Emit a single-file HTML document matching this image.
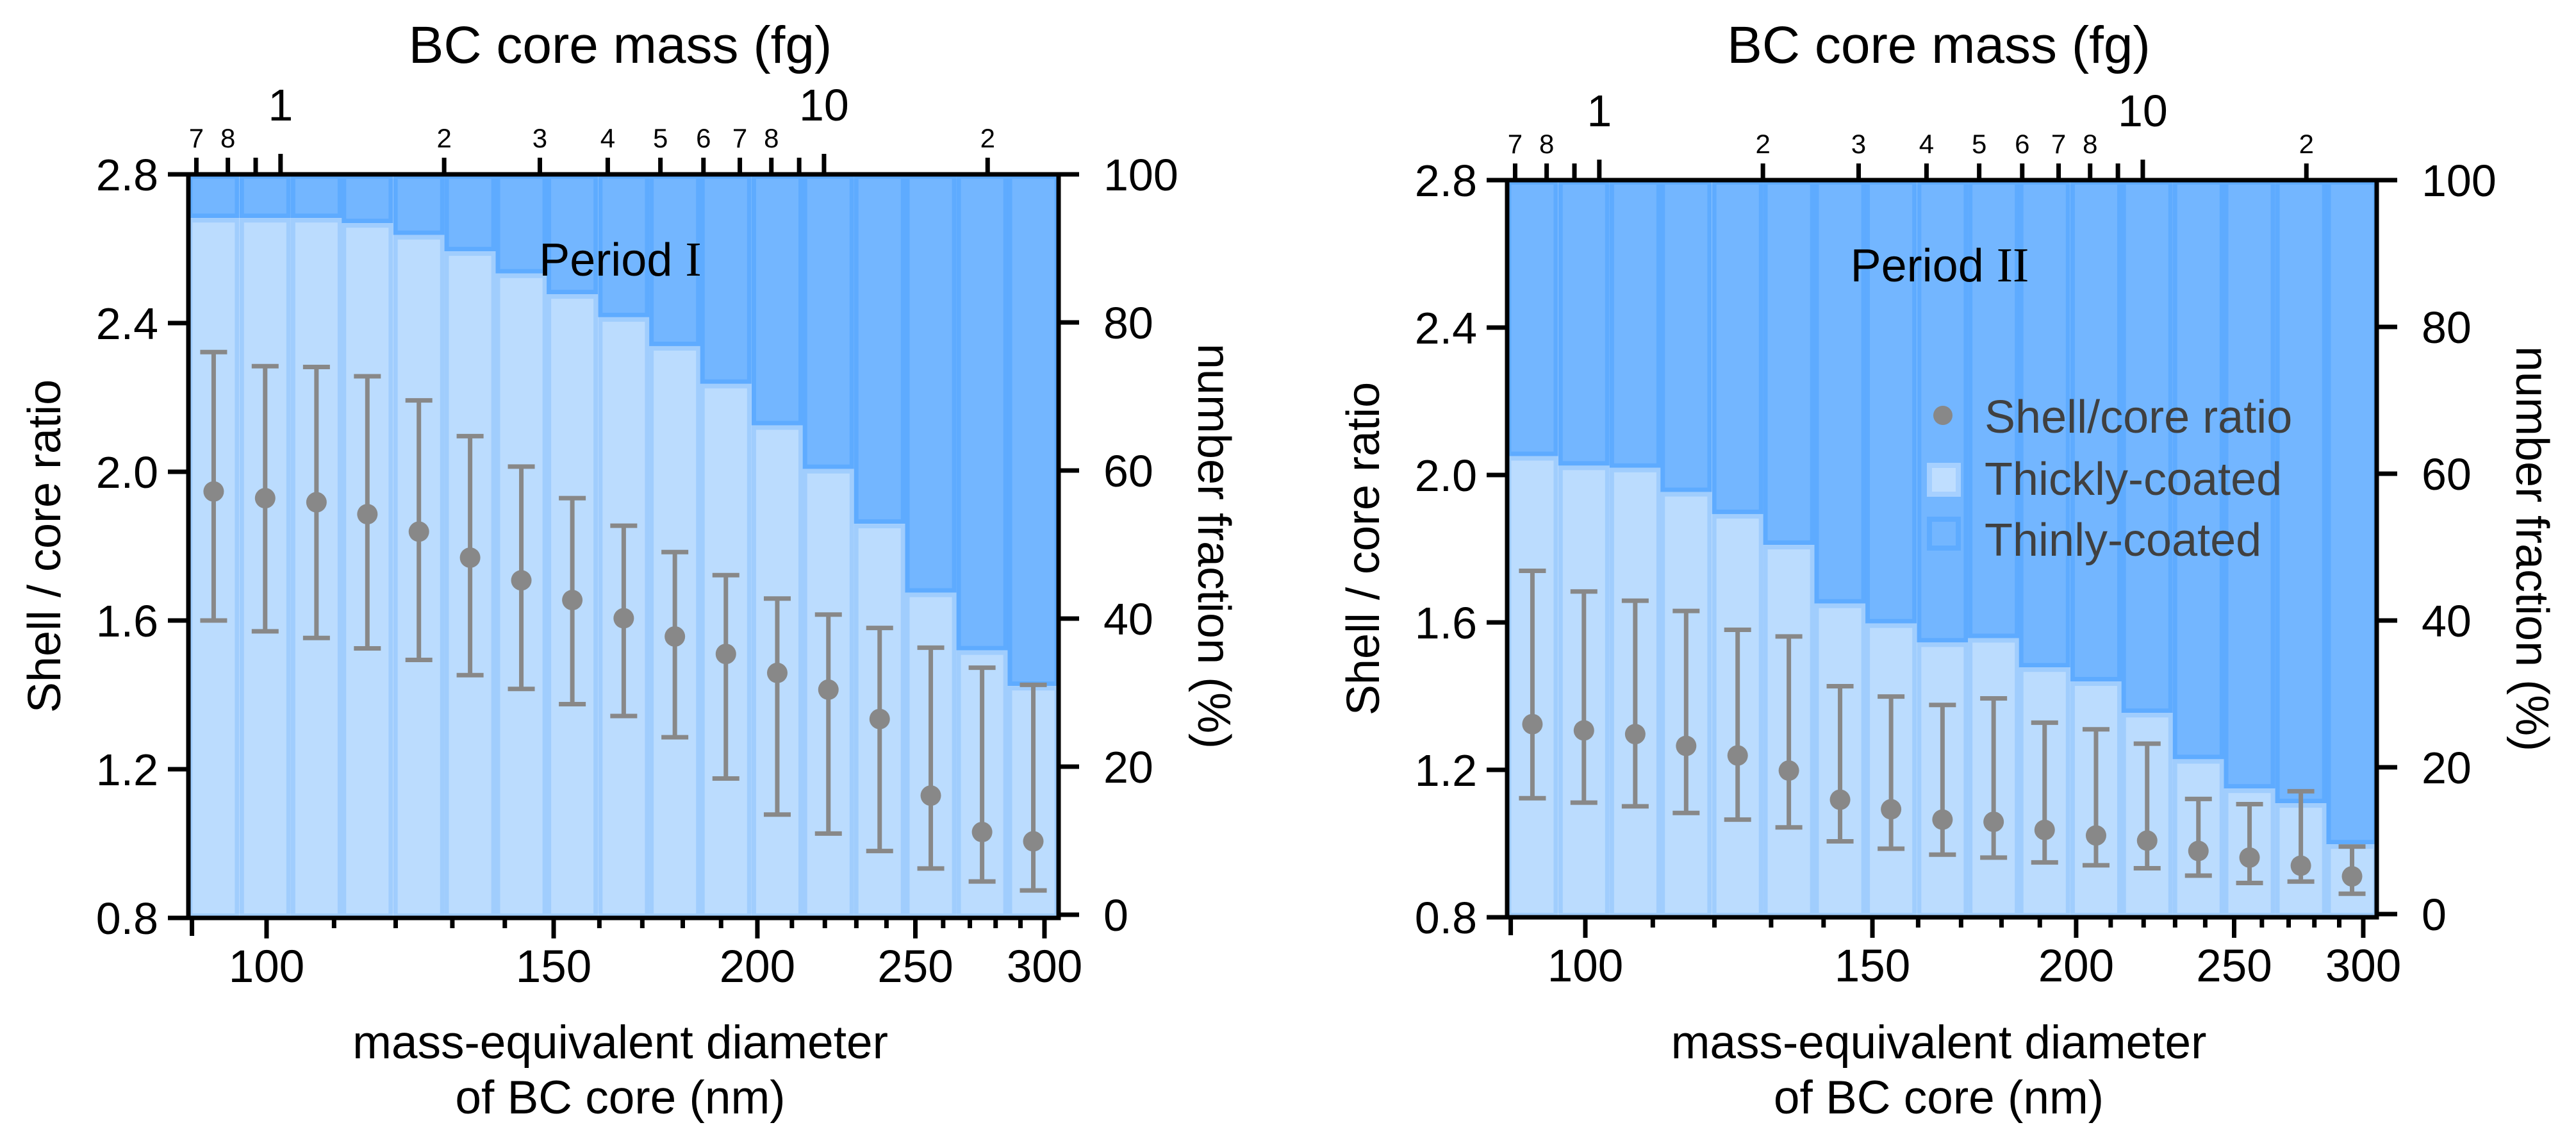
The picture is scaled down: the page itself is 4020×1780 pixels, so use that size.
<!DOCTYPE html>
<html><head><meta charset="utf-8"><style>
html,body{margin:0;padding:0;background:#fff;}
svg{display:block;}
text{font-family:"Liberation Sans",sans-serif;}
</style></head><body>
<svg id="fig" width="4020" height="1780" viewBox="0 0 4020 1780" xmlns="http://www.w3.org/2000/svg"></svg>
<script>
// Shared categories: bin-center diameters (nm)
const diameters = [92.8, 99.8, 107.3, 115.3, 124.0, 133.3, 143.3, 154.0, 165.6, 178.0, 191.3, 205.7, 221.1, 237.7, 255.5, 274.7, 295.3];
const xTickLabels = [100, 150, 200, 250, 300];
const xMinorTicks = [90, 110, 120, 130, 140, 160, 170, 180, 190, 210, 220, 230, 240, 260, 270, 280, 290];
const yLeftTicks = [0.8, 1.2, 1.6, 2.0, 2.4, 2.8];
const yRightTicks = [0, 20, 40, 60, 80, 100];
const massTicks = [0.7, 0.8, 0.9, 1, 2, 3, 4, 5, 6, 7, 8, 9, 10, 20];
const massTickLabels = ["7", "8", "", "1", "2", "3", "4", "5", "6", "7", "8", "", "10", "2"];

// Period I
const ratio1 = [1.947, 1.929, 1.918, 1.886, 1.839, 1.769, 1.708, 1.655, 1.606, 1.557, 1.510, 1.459, 1.414, 1.335, 1.129, 1.031, 1.006];
const upper1 = [2.322, 2.284, 2.282, 2.257, 2.192, 2.096, 2.014, 1.929, 1.855, 1.784, 1.722, 1.659, 1.616, 1.580, 1.527, 1.473, 1.427];
const lower1 = [1.600, 1.571, 1.553, 1.525, 1.494, 1.453, 1.416, 1.375, 1.343, 1.286, 1.175, 1.078, 1.027, 0.980, 0.933, 0.898, 0.874];
const thick1 = [94.1, 94.1, 94.1, 93.4, 91.8, 89.6, 86.6, 83.8, 80.7, 76.8, 71.7, 66.1, 60.2, 52.8, 43.5, 35.7, 30.9];

// Period II
const ratio2 = [1.324, 1.307, 1.297, 1.265, 1.239, 1.198, 1.119, 1.093, 1.065, 1.059, 1.037, 1.022, 1.008, 0.980, 0.962, 0.940, 0.911];
const upper2 = [1.740, 1.684, 1.659, 1.631, 1.580, 1.562, 1.427, 1.399, 1.376, 1.394, 1.328, 1.310, 1.271, 1.121, 1.107, 1.142, 0.992];
const lower2 = [1.123, 1.111, 1.101, 1.083, 1.065, 1.044, 1.006, 0.986, 0.970, 0.962, 0.949, 0.941, 0.933, 0.913, 0.893, 0.897, 0.864];
const thick2 = [62.4, 61.1, 60.8, 57.5, 54.5, 50.3, 42.3, 39.6, 37.0, 37.6, 33.6, 31.7, 27.4, 21.1, 17.1, 15.1, 9.5];

const NS = "http://www.w3.org/2000/svg";
const svg = document.getElementById("fig");
function mk(tag, attrs, parent) {
  const e = document.createElementNS(NS, tag);
  for (const k in attrs) e.setAttribute(k, attrs[k]);
  (parent || svg).appendChild(e);
  return e;
}
function txt(s, attrs, parent) { const t = mk("text", attrs, parent); t.textContent = s; return t; }

function panel(P) {
  const g = mk("g", {});
  
  
  const L = P.L, R = P.R, T = P.T, B = P.B;
  const xs = d => L + 122 + 1105 * Math.log(d / 100);
  const ys = v => T + (2.8 - v) * (B - T) / 2.0;
  const yr = p => P.RB - p * (P.RB - T) / 100;
  const rho = 1.8;
  const massToD = m => Math.cbrt(6 * m * 1e-15 / (Math.PI * rho)) * 1e7;
  const half = 1.0369;

  diameters.forEach((d, i) => {
    const x0 = xs(d / half), x1 = xs(d * half);
    const yf = yr(P.thick[i]);
    const dk = mk("rect", {x: x0 + 3.5, y: T + 3.5, width: x1 - x0 - 7, height: Math.max(0, yf - T - 7), fill: "#73b6ff", stroke: "#5eabff", "stroke-width": 7}, g);
    
    
    const lt = mk("rect", {x: x0 + 3.5, y: yf + 3.5, width: x1 - x0 - 7, height: Math.max(0, B - yf - 7), fill: "#bbdcfe", stroke: "#a0cdfd", "stroke-width": 7}, g);
    
    
  });

  diameters.forEach((d, i) => {
    const cx = xs(d);
    const eg = mk("g", {stroke: "#888", "stroke-width": 7, fill: "none"}, g);
    
    
    mk("line", {x1: cx, x2: cx, y1: ys(P.upper[i]), y2: ys(P.lower[i])}, eg);
    mk("line", {x1: cx - 21, x2: cx + 21, y1: ys(P.upper[i]), y2: ys(P.upper[i])}, eg);
    mk("line", {x1: cx - 21, x2: cx + 21, y1: ys(P.lower[i]), y2: ys(P.lower[i])}, eg);
    const c = mk("circle", {cx: cx, cy: ys(P.ratio[i]), r: 16, fill: "#888"}, g);
    
    
  });

  const ax = mk("g", {stroke: "#000", "stroke-width": 7, fill: "none"}, g);
  
  
  mk("line", {x1: L, y1: T - 3.5, x2: L, y2: B + 3.5}, ax);
  mk("line", {x1: R, y1: T - 3.5, x2: R, y2: B + 3.5}, ax);
  mk("line", {x1: L - 3.5, y1: T, x2: R + 3.5, y2: T}, ax);
  mk("line", {x1: L - 3.5, y1: B, x2: R + 3.5, y2: B}, ax);

  yLeftTicks.forEach(v => {
    mk("line", {x1: L - 32, x2: L, y1: ys(v), y2: ys(v)}, ax);
    const t = txt(v.toFixed(1), {x: L - 47, y: ys(v) + 25, "font-size": 70, "text-anchor": "end"}, g);
    
    
  });
  yRightTicks.forEach(p => {
    mk("line", {x1: R, x2: R + 32, y1: yr(p), y2: yr(p)}, ax);
    const t = txt(String(p), {x: R + 70, y: yr(p) + 25, "font-size": 70}, g);
    
    
  });
  xTickLabels.forEach(d => {
    mk("line", {x1: xs(d), x2: xs(d), y1: B, y2: B + 32}, ax);
    const t = txt(String(d), {x: xs(d), y: B + 100, "font-size": 71, "text-anchor": "middle"}, g);
    
    
  });
  xMinorTicks.forEach(d => {
    const len = d === 90 ? 28 : 16;
    mk("line", {x1: xs(d), x2: xs(d), y1: B, y2: B + len}, ax);
  });
  massTicks.forEach((m, i) => {
    const x = xs(massToD(m));
    const major = (m === 1 || m === 10);
    mk("line", {x1: x, x2: x, y1: T, y2: T - (major ? 32 : 26)}, ax);
    const lab = massTickLabels[i];
    if (lab) {
      const t = major
        ? txt(lab, {x: x, y: T - 84, "font-size": 70, "text-anchor": "middle"}, g)
        : txt(lab, {x: x, y: T - 42, "font-size": 42, "text-anchor": "middle"}, g);
      
      
    }
  });

  const cxm = (L + R) / 2 - 5;
  let t = txt("BC core mass (fg)", {x: cxm, y: 98, "font-size": 82, "text-anchor": "middle"}, g);
  
  
  t = txt("mass-equivalent diameter", {x: cxm, y: 1651, "font-size": 73, "text-anchor": "middle"}, g);
  
  
  t = txt("of BC core (nm)", {x: cxm, y: 1737, "font-size": 73, "text-anchor": "middle"}, g);
  
  
  t = txt("Shell / core ratio", {x: 0, y: 0, "font-size": 72, "text-anchor": "middle", transform: `translate(${L - 200},${(T + B) / 2}) rotate(-90)`}, g);
  
  
  t = txt("number fraction (%)", {x: 0, y: 0, "font-size": 72, "text-anchor": "middle", transform: `translate(${R + 218},${(T + B) / 2}) rotate(90)`}, g);
  
  

  t = txt("Period ", {x: P.periodX, y: T + 158, "font-size": 72, "text-anchor": "middle"}, g);
  
  
  const ts = mk("tspan", {"font-family": "Liberation Serif, serif", "font-size": 76}, t);
  ts.textContent = P.roman;
}

panel({name: "panel-period-1", L: 294, R: 1652, T: 272, B: 1432, RB: 1427, thick: thick1, ratio: ratio1, upper: upper1, lower: lower1, periodX: 968, roman: "I"});
panel({name: "panel-period-2", L: 2352, R: 3709, T: 281, B: 1431, RB: 1426, thick: thick2, ratio: ratio2, upper: upper2, lower: lower2, periodX: 3027, roman: "II"});

const lg = mk("g", {});


const ld = mk("circle", {cx: 3032, cy: 648, r: 15, fill: "#888"}, lg);


const l1 = mk("rect", {x: 3011, y: 726, width: 45, height: 45, fill: "#bfdeff", stroke: "#a6d0ff", "stroke-width": 8}, lg);


const l2 = mk("rect", {x: 3011, y: 810, width: 45, height: 45, fill: "#73b6ff", stroke: "#5eabff", "stroke-width": 8}, lg);


[["Shell/core ratio", 675, "legend-entry-ratio"], ["Thickly-coated", 772, "legend-entry-thick"], ["Thinly-coated", 867, "legend-entry-thin"]].forEach(e => {
  const t = txt(e[0], {x: 3097, y: e[1], "font-size": 72, fill: "#404040"}, lg);
  
  
});
</script>
</body></html>
